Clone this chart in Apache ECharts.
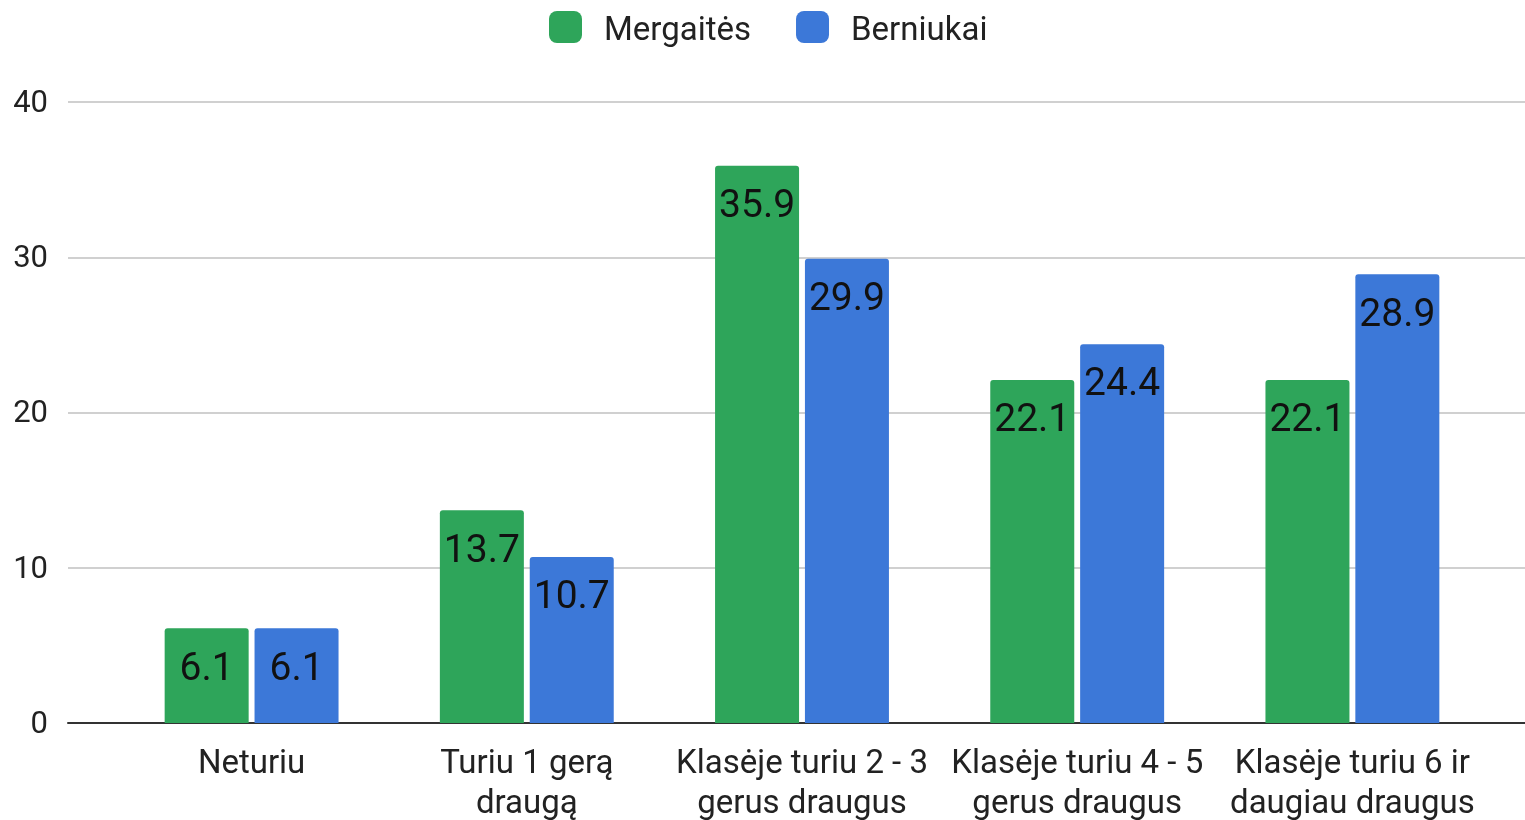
<!DOCTYPE html>
<html>
<head>
<meta charset="utf-8">
<script src="https://cdn.jsdelivr.net/npm/echarts@6/dist/echarts.min.js"></script>
<style>
  html, body { margin: 0; padding: 0; background: #fff; }
  #chart { width: 1525px; height: 820px; }
</style>
</head>
<body>
<div id="chart"></div>
<script>
// duomenys
const categories = ['Neturiu', 'Turiu 1 gerą\ndraugą', 'Klasėje turiu 2 - 3\ngerus draugus', 'Klasėje turiu 4 - 5\ngerus draugus', 'Klasėje turiu 6 ir\ndaugiau draugus'];
const seriesNames = ['Mergaitės', 'Berniukai'];
const girls = [6.1, 13.7, 35.9, 22.1, 22.1];
const boys = [6.1, 10.7, 29.9, 24.4, 28.9];
const yTicks = [0, 10, 20, 30, 40];

const FONT = 'Roboto, "Noto Sans", sans-serif';

const chart = echarts.init(document.getElementById('chart'));

const barLabel = {
    show: true,
    position: 'insideTop',
    distance: 22,
    color: '#111',
    fontFamily: FONT,
    fontSize: 39
};

chart.setOption({
    animation: false,
    color: ['#2ea55a', '#3c78d8'],
    legend: {
        top: 6,
        left: 549,
        padding: 0,
        itemWidth: 33,
        itemHeight: 32,
        itemGap: 45,
        icon: 'roundRect',
        formatter: '{n|{name}}',
        textStyle: {
            fontFamily: FONT, fontSize: 33, color: '#222',
            rich: {
                n: { fontFamily: FONT, fontSize: 33, lineHeight: 32, color: '#222', padding: [9, 0, 0, 17] }
            }
        },
        data: seriesNames
    },
    grid: [
        // grid 0 – tik ašis ir tinklelis
        { left: 68, right: 0, top: 102, bottom: 97, outerBoundsMode: 'none' },
        // grid 1 – stulpeliai
        { left: 114, right: 35, top: 102, bottom: 97, outerBoundsMode: 'none' }
    ],
    xAxis: [
        {
            gridIndex: 0,
            type: 'category',
            data: categories,
            axisLine: { lineStyle: { color: '#333', width: 2 } },
            axisTick: { show: false },
            axisLabel: { show: false }
        },
        {
            gridIndex: 1,
            type: 'category',
            data: categories,
            axisLine: { show: false },
            axisTick: { show: false },
            axisLabel: {
                margin: 22,
                color: '#222',
                fontFamily: FONT,
                fontSize: 33,
                lineHeight: 40,
                interval: 0
            }
        }
    ],
    yAxis: [
        {
            gridIndex: 0,
            type: 'value',
            min: yTicks[0],
            max: yTicks[yTicks.length - 1],
            interval: 10,
            axisLine: { show: false },
            axisTick: { show: false },
            axisLabel: {
                margin: 20, color: '#222', fontFamily: FONT, fontSize: 31,
                formatter: '{v|{value}}',
                rich: { v: { fontFamily: FONT, fontSize: 31, color: '#222', padding: [4, 0, 0, 0] } }
            },
            splitLine: { lineStyle: { color: '#d0d0d0', width: 2 } }
        },
        {
            gridIndex: 1,
            type: 'value',
            min: yTicks[0],
            max: yTicks[yTicks.length - 1],
            show: false,
            splitLine: { show: false }
        }
    ],
    series: [
        {
            name: seriesNames[0],
            type: 'bar',
            xAxisIndex: 1,
            yAxisIndex: 1,
            barWidth: 84,
            barGap: '7%',
            data: girls,
            itemStyle: { borderRadius: [3, 3, 0, 0] },
            label: barLabel
        },
        {
            name: seriesNames[1],
            type: 'bar',
            xAxisIndex: 1,
            yAxisIndex: 1,
            barWidth: 84,
            barGap: '7%',
            data: boys,
            itemStyle: { borderRadius: [3, 3, 0, 0] },
            label: barLabel
        }
    ]
});
</script>
</body>
</html>
